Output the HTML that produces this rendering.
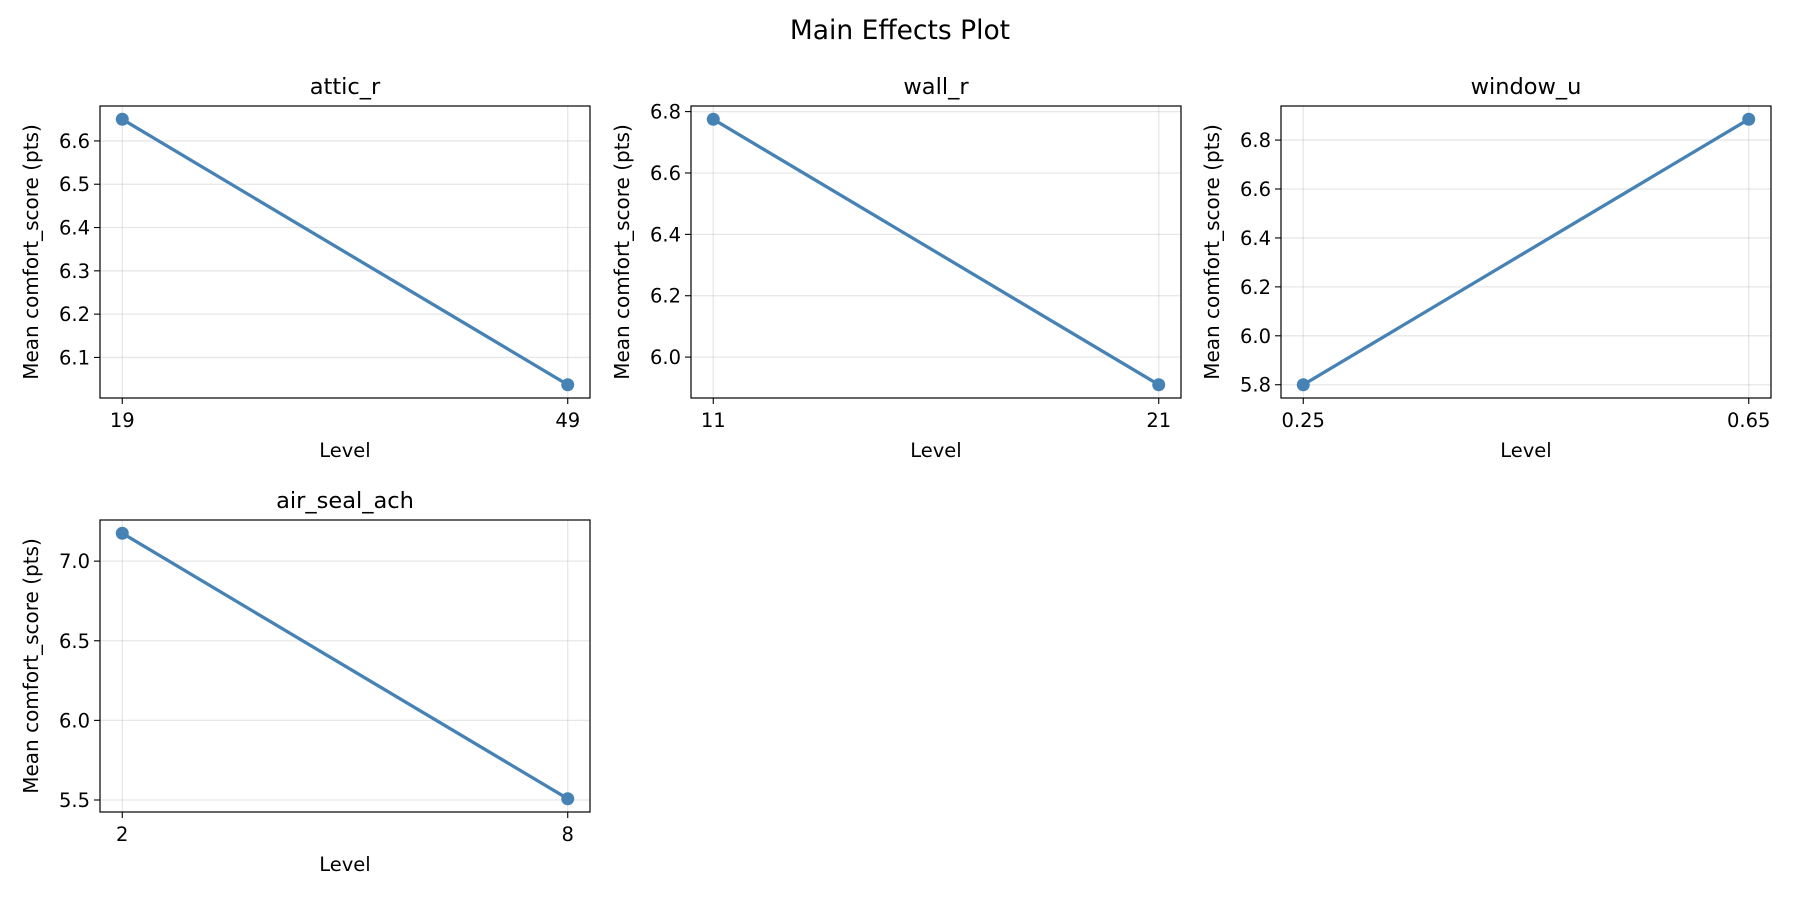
<!DOCTYPE html>
<html><head><meta charset="utf-8">
<style>
html,body{margin:0;padding:0;background:#fff;}
svg{display:block;font-family:"DejaVu Sans","Liberation Sans",sans-serif;}
</style></head>
<body>
<svg id="fig" width="1800" height="900" viewBox="0 0 1800 900" xmlns="http://www.w3.org/2000/svg">
<rect width="1800" height="900" fill="#fff"/>
<text x="900" y="39" font-size="26.5" text-anchor="middle" fill="#000">Main Effects Plot</text>
</svg>
<script>
const factorNames = ["attic_r", "wall_r", "window_u", "air_seal_ach"];
const levelLabels = [["19", "49"], ["11", "21"], ["0.25", "0.65"], ["2", "8"]];
const meanValues = [[6.65, 6.037], [6.775, 5.91], [5.80, 6.885], [7.175, 5.508]];
const yTickValues = [
  [6.1, 6.2, 6.3, 6.4, 6.5, 6.6],
  [6.0, 6.2, 6.4, 6.6, 6.8],
  [5.8, 6.0, 6.2, 6.4, 6.6, 6.8],
  [5.5, 6.0, 6.5, 7.0]
];
const yTickLabels = [
  ["6.1", "6.2", "6.3", "6.4", "6.5", "6.6"],
  ["6.0", "6.2", "6.4", "6.6", "6.8"],
  ["5.8", "6.0", "6.2", "6.4", "6.6", "6.8"],
  ["5.5", "6.0", "6.5", "7.0"]
];

const NS = "http://www.w3.org/2000/svg";
const svg = document.getElementById("fig");
const boxes = [
  {x0:100, x1:590, y0:106, y1:398},
  {x0:691, x1:1181, y0:106, y1:398},
  {x0:1281, x1:1771, y0:106, y1:398},
  {x0:100, x1:590, y0:520, y1:812}
];
function mk(tag, attrs, parent){
  const e = document.createElementNS(NS, tag);
  for (const k in attrs) e.setAttribute(k, attrs[k]);
  (parent||svg).appendChild(e);
  return e;
}
factorNames.forEach((name, i) => {
  const b = boxes[i];
  const vals = meanValues[i];
  const n = vals.length;
  const g = mk("g", {});
  
  
  const vmin = Math.min(...vals), vmax = Math.max(...vals);
  const pad = (vmax - vmin) * 0.05;
  const lo = vmin - pad, hi = vmax + pad;
  const xPad = (n - 1) * 0.05;
  const xs = k => b.x0 + (k + xPad) / (n - 1 + 2 * xPad) * (b.x1 - b.x0);
  const ys = v => b.y1 - (v - lo) / (hi - lo) * (b.y1 - b.y0);
  yTickValues[i].forEach((t, j) => {
    const y = ys(t);
    const gl = mk("line", {x1:b.x0, x2:b.x1, y1:y, y2:y, stroke:"#b0b0b0", "stroke-opacity":"0.3", "stroke-width":"1.3"}, g);
    
    
    const tk = mk("line", {x1:b.x0-6, x2:b.x0, y1:y, y2:y, stroke:"#000", "stroke-width":"1.1"}, g);
    
    
    const tl = mk("text", {x:b.x0-10, y:y+7, "font-size":"19.5", "text-anchor":"end", fill:"#000"}, g);
    tl.textContent = yTickLabels[i][j];
    
    
  });
  levelLabels[i].forEach((lab, k) => {
    const x = xs(k);
    const gl = mk("line", {x1:x, x2:x, y1:b.y0, y2:b.y1, stroke:"#b0b0b0", "stroke-opacity":"0.3", "stroke-width":"1.3"}, g);
    
    
    const tk = mk("line", {x1:x, x2:x, y1:b.y1, y2:b.y1+6, stroke:"#000", "stroke-width":"1.1"}, g);
    
    
    const tl = mk("text", {x:x, y:b.y1+29, "font-size":"19.5", "text-anchor":"middle", fill:"#000"}, g);
    tl.textContent = lab;
    
    
  });
  const pts = vals.map((v, k) => xs(k) + "," + ys(v)).join(" ");
  const pl = mk("polyline", {points:pts, fill:"none", stroke:"#4682b4", "stroke-width":"3.3"}, g);
  
  
  vals.forEach((v, k) => {
    const c = mk("circle", {cx:xs(k), cy:ys(v), r:"6.5", fill:"#4682b4"}, g);
    
    
  });
  const fr = mk("rect", {x:b.x0, y:b.y0, width:b.x1-b.x0, height:b.y1-b.y0, fill:"none", stroke:"#000", "stroke-width":"1.2"}, g);
  
  
  const cx = (b.x0 + b.x1) / 2;
  const t = mk("text", {x:cx, y:b.y0-12, "font-size":"22.5", "text-anchor":"middle", fill:"#000"}, g);
  t.textContent = name;
  
  
  const xl = mk("text", {x:cx, y:b.y1+59, "font-size":"19.5", "text-anchor":"middle", fill:"#000"}, g);
  xl.textContent = "Level";
  
  
  const ycx = b.x0 - 62, ycy = (b.y0 + b.y1) / 2;
  const yl = mk("text", {x:ycx, y:ycy, "font-size":"20", "text-anchor":"middle", fill:"#000", transform:"rotate(-90 " + ycx + " " + ycy + ")"}, g);
  yl.textContent = "Mean comfort_score (pts)";
  
  
});
</script>
</body></html>
